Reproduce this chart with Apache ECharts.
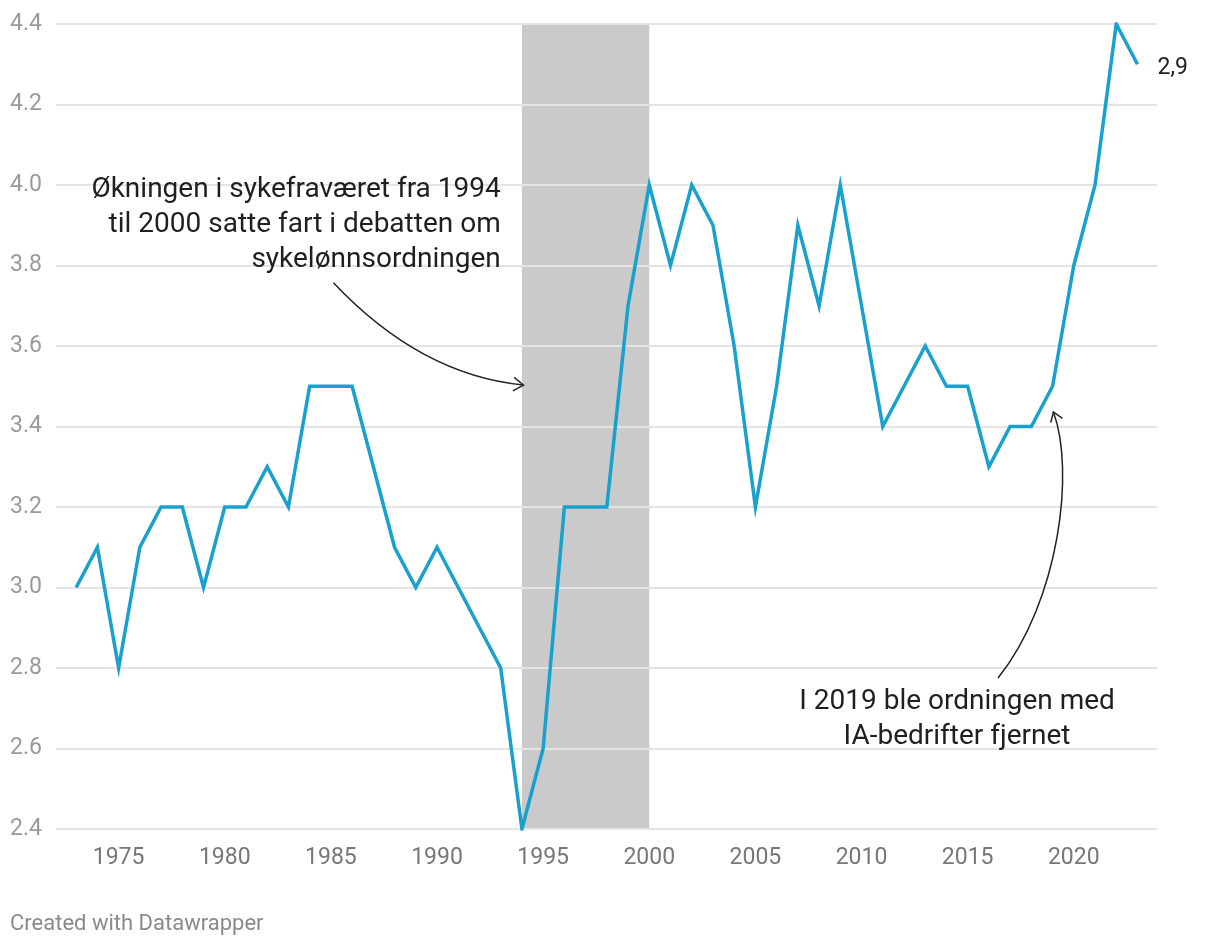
<!DOCTYPE html>
<html>
<head>
<meta charset="utf-8">
<script src="https://cdn.jsdelivr.net/npm/echarts@6/dist/echarts.min.js"></script>
<style>
  html, body { margin: 0; padding: 0; background: #fff; }
  #chart { width: 1220px; height: 946px; }
</style>
</head>
<body>
<div id="chart"></div>
<script>
// ---- data ----
const years = [1973,1974,1975,1976,1977,1978,1979,1980,1981,1982,1983,1984,1985,1986,1987,1988,1989,1990,1991,1992,1993,1994,1995,1996,1997,1998,1999,2000,2001,2002,2003,2004,2005,2006,2007,2008,2009,2010,2011,2012,2013,2014,2015,2016,2017,2018,2019,2020,2021,2022,2023];
const values = [3.0,3.1,2.8,3.1,3.2,3.2,3.0,3.2,3.2,3.3,3.2,3.5,3.5,3.5,3.3,3.1,3.0,3.1,3.0,2.9,2.8,2.4,2.6,3.2,3.2,3.2,3.7,4.0,3.8,4.0,3.9,3.6,3.2,3.5,3.9,3.7,4.0,3.7,3.4,3.5,3.6,3.5,3.5,3.3,3.4,3.4,3.5,3.8,4.0,4.4,4.3];
const xTickLabels = [1975,1980,1985,1990,1995,2000,2005,2010,2015,2020];
const yTicks = [2.4,2.6,2.8,3.0,3.2,3.4,3.6,3.8,4.0,4.2,4.4];
const bandRange = [1994, 2000];
const endLabelText = '2,9';
const note1 = 'Økningen i sykefraværet fra 1994\ntil 2000 satte fart i debatten om\nsykelønnsordningen';
const note2 = 'I 2019 ble ordningen med\nIA-bedrifter fjernet';
const footer = 'Created with Datawrapper';

const FONT = 'Roboto, "Noto Sans", sans-serif';
const chart = echarts.init(document.getElementById('chart'), null, {renderer: 'canvas'});

const option = {
  animation: false,
  backgroundColor: '#ffffff',
  grid: { left: 56, right: 63, top: 24, bottom: 117, containLabel: false },
  xAxis: {
    type: 'value',
    min: 1972.05,
    max: 2023.92,
    axisLine: { show: false },
    axisTick: { show: false },
    splitLine: { show: false },
    axisLabel: {
      customValues: xTickLabels,
      color: '#777777',
      fontSize: 23,
      fontFamily: FONT,
      margin: 18,
      formatter: v => String(v)
    }
  },
  yAxis: {
    type: 'value',
    min: yTicks[0],
    max: yTicks[yTicks.length - 1],
    interval: 0.2,
    z: 2,
    axisLine: { show: false },
    axisTick: { show: false },
    splitLine: { show: true, lineStyle: { color: '#e4e4e4', width: 2 } },
    axisLabel: {
      color: '#9a9a9a',
      fontSize: 23,
      fontFamily: FONT,
      align: 'left',
      margin: 46,
      formatter: v => v.toFixed(1)
    }
  },
  series: [
    {
      type: 'line',
      z: 1,
      data: [],
      silent: true,
      markArea: {
        silent: true,
        itemStyle: { color: '#cacaca' },
        label: { show: false },
        data: [[{ xAxis: bandRange[0] }, { xAxis: bandRange[1] }]]
      }
    },
    {
      type: 'line',
      z: 3,
      data: years.map((y, i) => [y, values[i]]),
      symbol: 'none',
      lineStyle: { color: '#18a1cd', width: 3.5, join: 'miter', miterLimit: 10 },
      endLabel: {
        show: true,
        formatter: endLabelText,
        color: '#222222',
        fontSize: 23,
        fontFamily: FONT,
        distance: 20,
        offset: [0, 4]
      }
    }
  ]
};
chart.setOption(option);

// ---- annotations (anchored in data coordinates) ----
const arrow1 = [[1985.12, 3.757], [1989.22, 3.528], [1994.07, 3.503]];              // quadratic
const arrow2 = [[2016.43, 2.775], [2019.35, 2.969], [2020.05, 3.292], [2019.04, 3.436]]; // cubic
const note1Anchor = [1993.0, 3.9];
const note2Anchor = [2014.5, 2.672];

function px(p) { return chart.convertToPixel({ gridIndex: 0 }, p); }

function arrowHead(tip, from, len, ang) {
  const dx = tip[0] - from[0], dy = tip[1] - from[1];
  const a = Math.atan2(dy, dx);
  const p1 = [tip[0] - len * Math.cos(a - ang), tip[1] - len * Math.sin(a - ang)];
  const p2 = [tip[0] - len * Math.cos(a + ang), tip[1] - len * Math.sin(a + ang)];
  return [p1, tip, p2];
}

const a1 = arrow1.map(px);
const a2 = arrow2.map(px);
const n1 = px(note1Anchor);
const n2 = px(note2Anchor);
const lineStyle = { stroke: '#222222', lineWidth: 1.5, fill: null };

chart.setOption({
  graphic: [
    {
      type: 'bezierCurve', z: 10, silent: true,
      shape: { x1: a1[0][0], y1: a1[0][1], cpx1: a1[1][0], cpy1: a1[1][1], x2: a1[2][0], y2: a1[2][1] },
      style: lineStyle
    },
    {
      type: 'polyline', z: 10, silent: true,
      shape: { points: arrowHead(a1[2], a1[1], 12, 0.6) },
      style: lineStyle
    },
    {
      type: 'bezierCurve', z: 10, silent: true,
      shape: { x1: a2[0][0], y1: a2[0][1], cpx1: a2[1][0], cpy1: a2[1][1], cpx2: a2[2][0], cpy2: a2[2][1], x2: a2[3][0], y2: a2[3][1] },
      style: lineStyle
    },
    {
      type: 'polyline', z: 10, silent: true,
      shape: { points: arrowHead(a2[3], a2[2], 11, 0.6) },
      style: lineStyle
    },
    {
      type: 'text', z: 10, silent: true,
      x: n1[0], y: n1[1],
      style: {
        text: note1, fill: '#1f1f1f', font: '28px ' + FONT,
        align: 'right', verticalAlign: 'middle', lineHeight: 35
      }
    },
    {
      type: 'text', z: 10, silent: true,
      x: n2[0], y: n2[1],
      style: {
        text: note2, fill: '#1f1f1f', font: '28px ' + FONT,
        align: 'center', verticalAlign: 'middle', lineHeight: 35
      }
    },
    {
      type: 'text', z: 10, silent: true,
      left: 10, top: 913,
      style: { text: footer, fill: '#8a8a8a', font: '22px ' + FONT }
    }
  ]
});
</script>
</body>
</html>
